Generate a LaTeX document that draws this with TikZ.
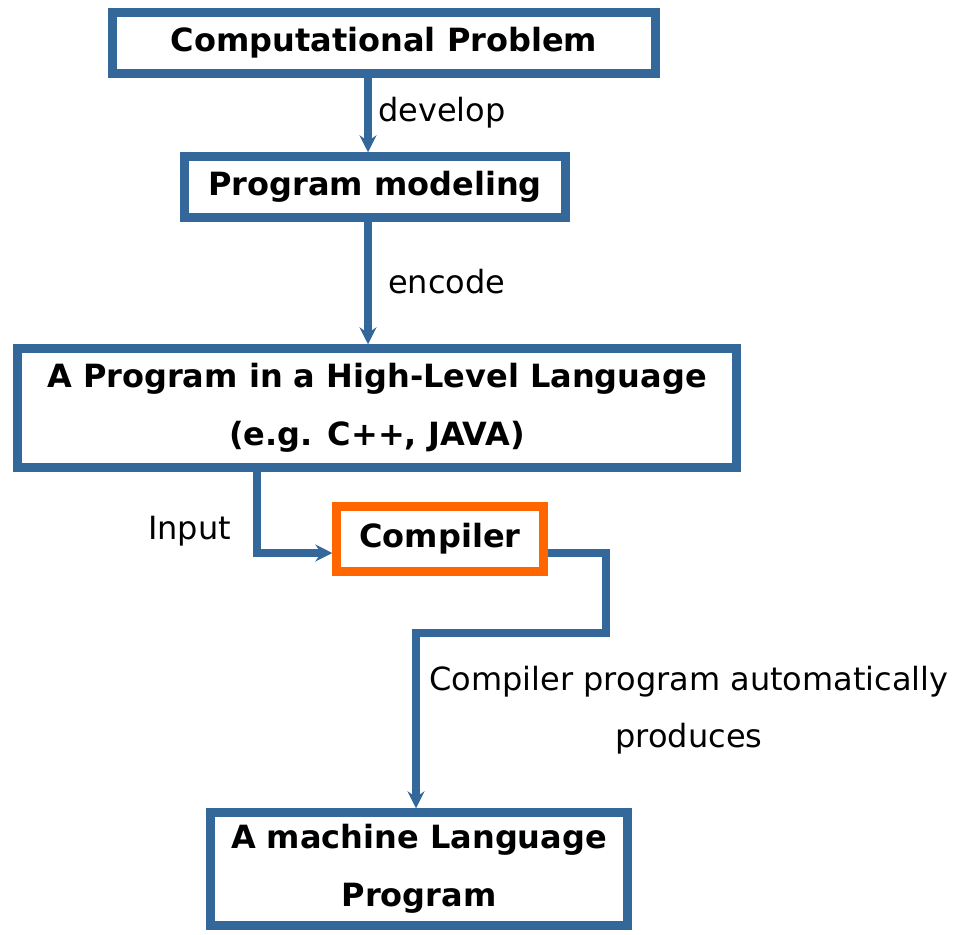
\documentclass[tikz,border=0pt]{standalone}
\usepackage{fontspec}
\setmainfont{DejaVu Sans}
\usetikzlibrary{arrows.meta}
\definecolor{flowblue}{RGB}{52,103,154}
\definecolor{floworange}{RGB}{255,102,0}
\begin{document}
\begin{tikzpicture}[x=1pt,y=1pt,
  box/.style={draw=flowblue, line width=8.5pt, fill=white, align=center,
    inner sep=0pt, font=\fontsize{32}{58}\selectfont\bfseries},
  lbl/.style={font=\fontsize{32}{57}\selectfont, inner sep=0pt, align=center},
  link/.style={draw=flowblue, line width=8pt,
    -{Stealth[length=17pt,width=17pt,inset=6pt]}},
]
\useasboundingbox (0,0) rectangle (965,-934);

% boxes
\node[box, minimum width=543pt, minimum height=61pt] (cp) at (384,-43) {Computational Problem};
\node[box, minimum width=381pt, minimum height=61pt] (pm) at (375,-187) {Program modeling};
\node[box, minimum width=719pt, minimum height=119pt] (hl) at (377,-408)
  {A Program in a High-Level Language\\(e.g. C++, JAVA)};
\node[box, draw=floworange, minimum width=207pt, minimum height=65pt] (cc) at (440,-539) {Compiler};
\node[box, minimum width=417pt, minimum height=113pt] (ml) at (419,-869)
  {A machine Language\\Program};

% routing points
\coordinate (xa) at (368,0);
\coordinate (xin) at (257,0);
\coordinate (yc) at (0,-553);
\coordinate (k1) at (606,-633);
\coordinate (k2) at (416,-633);

% connectors
\draw[link] (cp.south -| xa) -- (pm.north -| xa);
\draw[link] (pm.south -| xa) -- (hl.north -| xa);
\draw[link] (hl.south -| xin) |- (cc.west |- yc);
\draw[link] (cc.east |- yc) -| (k1) -- (k2) -- (ml.north -| k2);

% labels
\node[lbl, anchor=base west] (l1) at (378,-121) {develop};
\node[lbl, anchor=base west] (l2) at (388,-293) {encode};
\node[lbl, anchor=base west] (l3) at (148,-539) {Input};
\node[lbl] (l4) at (689,-710) {Compiler program automatically\\produces};
\end{tikzpicture}
\end{document}
